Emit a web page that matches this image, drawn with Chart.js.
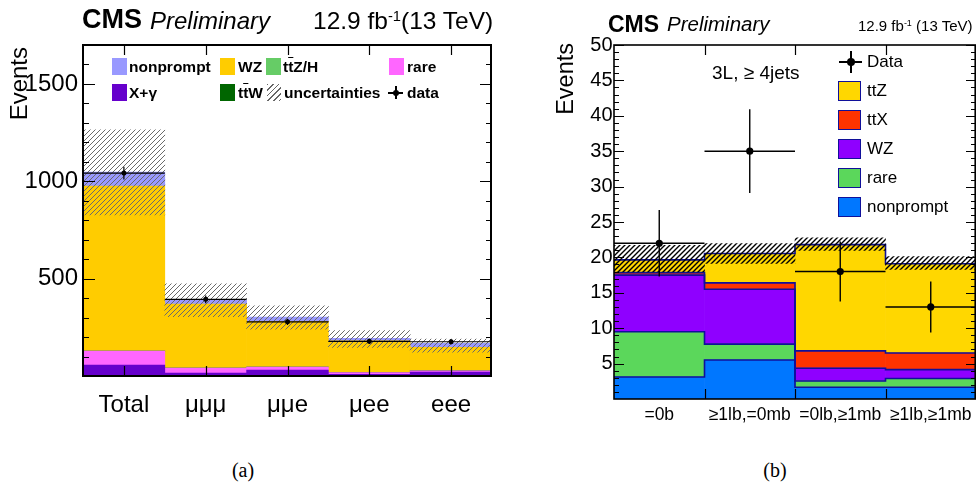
<!DOCTYPE html>
<html>
<head>
<meta charset="utf-8">
<title>3L yields</title>
<script src="https://cdn.jsdelivr.net/npm/chart.js@4.4.1/dist/chart.umd.min.js"></script>
<style>
  html, body { margin: 0; padding: 0; background: #fff; }
  body { width: 980px; height: 486px; position: relative; overflow: hidden; font-family: 'Liberation Sans', Arial, sans-serif; color: #000; }
  canvas { position: absolute; top: 0; }
  #chartA { left: 0; }
  #chartB { left: 530px; }
  .t { position: absolute; white-space: nowrap; }
  .b { font-weight: bold; }
  .i { font-style: italic; }
  .sup { font-size: 0.6em; position: relative; top: -0.55em; }
  .ov { text-decoration: overline; }
  .box { position: absolute; }
  .leg { position: absolute; font-weight: bold; font-size: 15.5px; height: 16px; line-height: 16px; white-space: nowrap; }
  .legB { position: absolute; font-size: 17px; height: 18px; line-height: 18px; white-space: nowrap; }
  .boxB { position: absolute; width: 21px; height: 18px; border: 1.5px solid #10109a; }
  .rot { position: absolute; width: 200px; text-align: right; transform-origin: top left; transform: rotate(-90deg); white-space: nowrap; }
  .cap { position: absolute; font-family: 'Liberation Serif', 'DejaVu Serif', serif; font-size: 20px; height: 20px; line-height: 20px; width: 60px; text-align: center; }
</style>
</head>
<body>
<canvas id="chartA" width="510" height="430"></canvas>
<canvas id="chartB" width="450" height="430"></canvas>

<!-- panel (a) header -->
<div class="t b" style="left:82px; top:6px; font-size:27px; line-height:27px;">CMS</div>
<div class="t i" style="left:150px; top:9px; font-size:24px; line-height:24px;">Preliminary</div>
<div class="t" style="left:313px; top:9px; font-size:24.5px; line-height:24px;">12.9 fb<span class="sup">-1</span>(13 TeV)</div>
<div class="rot" style="left:7px; top:247px; font-size:24px; line-height:24px;">Events</div>

<!-- panel (a) legend -->
<div class="box" style="left:112px; top:58px; width:15px; height:17px; background:#9999ff;"></div>
<div class="leg" style="left:129px; top:59px;">nonprompt</div>
<div class="box" style="left:220px; top:58px; width:15px; height:17px; background:#ffcc00;"></div>
<div class="leg" style="left:238px; top:59px;">WZ</div>
<div class="box" style="left:266px; top:58px; width:15px; height:17px; background:#66cc66;"></div>
<div class="leg" style="left:283px; top:59px;">t<span class="ov">t</span>Z/H</div>
<div class="box" style="left:389px; top:58px; width:15px; height:17px; background:#ff66ff;"></div>
<div class="leg" style="left:407px; top:59px;">rare</div>
<div class="box" style="left:112px; top:84px; width:15px; height:17px; background:#6600cc;"></div>
<div class="leg" style="left:129px; top:85px;">X+γ</div>
<div class="box" style="left:220px; top:84px; width:15px; height:17px; background:#006600;"></div>
<div class="leg" style="left:238px; top:85px;">t<span class="ov">t</span>W</div>
<div class="box" style="left:267px; top:84px; width:14px; height:17px; background:repeating-linear-gradient(135deg, #666 0 1px, #fff 1px 4px);"></div>
<div class="leg" style="left:284px; top:85px;">uncertainties</div>
<div class="box" style="left:388px; top:92px; width:15px; height:1.5px; background:#000;"></div>
<div class="box" style="left:395px; top:86px; width:1.5px; height:13px; background:#000;"></div>
<div class="box" style="left:393px; top:90px; width:6px; height:6px; border-radius:3px; background:#000;"></div>
<div class="leg" style="left:407px; top:85px;">data</div>

<!-- panel (b) header -->
<div class="t b" style="left:608px; top:12.5px; font-size:23px; line-height:23px;">CMS</div>
<div class="t i" style="left:667px; top:14px; font-size:20.5px; line-height:20.5px;">Preliminary</div>
<div class="t" style="left:858px; top:18px; font-size:15px; line-height:15px;">12.9 fb<span class="sup">-1</span> (13 TeV)</div>
<div class="rot" style="left:554px; top:243px; font-size:23.5px; line-height:23.5px;">Events</div>
<div class="t" style="left:712px; top:62.5px; font-size:19px; line-height:19px;">3L, ≥ 4jets</div>

<!-- panel (b) legend -->
<div class="box" style="left:839px; top:61px; width:23px; height:1.5px; background:#000;"></div>
<div class="box" style="left:850px; top:51px; width:1.5px; height:22px; background:#000;"></div>
<div class="box" style="left:846.5px; top:58px; width:8px; height:8px; border-radius:4px; background:#000;"></div>
<div class="legB" style="left:867px; top:53px;">Data</div>
<div class="boxB" style="left:838px; top:81px; background:#ffd700;"></div>
<div class="legB" style="left:867px; top:82px;">ttZ</div>
<div class="boxB" style="left:838px; top:110px; background:#ff3300;"></div>
<div class="legB" style="left:867px; top:111px;">ttX</div>
<div class="boxB" style="left:838px; top:139px; background:#8f00ff;"></div>
<div class="legB" style="left:867px; top:140px;">WZ</div>
<div class="boxB" style="left:838px; top:168px; background:#5bd75b;"></div>
<div class="legB" style="left:867px; top:169px;">rare</div>
<div class="boxB" style="left:838px; top:197px; background:#0077ff;"></div>
<div class="legB" style="left:867px; top:198px;">nonprompt</div>

<div class="cap" style="left:213px; top:460px;">(a)</div>
<div class="cap" style="left:745px; top:460px;">(b)</div>

<script>
// (a) three-lepton yields per flavour channel
const channels = ['Total', 'μμμ', 'μμe', 'μee', 'eee'];
const xgammaA = [56, 15, 31, 9, 20];
const rareA = [72, 26, 15, 8, 6];
const ttWA = [0, 0, 0, 0, 0];
const ttZHA = [0, 0, 0, 0, 0];
const wzA = [848, 329, 235, 163, 121];
const nonpromptA = [71, 20, 21, 14, 21];
const uncLowA = [827, 305, 240, 147, 123];
const uncHighA = [1264, 473, 360, 233, 190];
const dataA = [1042, 394, 278, 178, 176];
const yTicksA = [500, 1000, 1500];
const yMaxA = 1700;

// (b) 3L, >= 4 jets, split by b-tag category
const bins = ['=0b', '≥1lb,=0mb', '=0lb,≥1mb', '≥1lb,≥1mb'];
const nonpromptB = [3.1, 5.5, 1.65, 1.65];
const rareB = [6.4, 2.25, 0.9, 1.25];
const wzB = [8.0, 7.75, 1.8, 1.25];
const ttXB = [0.35, 0.9, 2.45, 2.35];
const ttZB = [1.8, 4.15, 15.0, 12.6];
const uncLowB = [17.95, 19.15, 21.0, 18.3];
const uncHighB = [21.7, 21.95, 22.75, 20.1];
const dataB = [22, 35, 18, 13];
const yTicksB = [5, 10, 15, 20, 25, 30, 35, 40, 45, 50];
const yMaxB = 50;

const FONT = 'Liberation Sans';

function hatch(color, gap, lw) {
    const c = document.createElement('canvas');
    c.width = gap;
    c.height = gap;
    const g = c.getContext('2d');
    g.strokeStyle = color;
    g.lineWidth = lw;
    g.beginPath();
    g.moveTo(-1, gap + 1); g.lineTo(gap + 1, -1);
    g.moveTo(-1, 1); g.lineTo(1, -1);
    g.moveTo(gap - 1, gap + 1); g.lineTo(gap + 1, gap - 1);
    g.stroke();
    return g.createPattern(c, 'repeat');
}

// sqrt(N) vertical error, horizontal bar across the whole bin
const errorBars = {
    id: 'errorBars',
    afterDatasetsDraw(chart, args, o) {
        const {ctx, chartArea: a, scales: {x, y}} = chart;
        const values = chart.data.datasets[o.dataset].data;
        ctx.save();
        ctx.beginPath();
        ctx.rect(a.left, a.top, a.right - a.left, a.bottom - a.top);
        ctx.clip();
        ctx.strokeStyle = o.color;
        ctx.lineWidth = o.width;
        ctx.beginPath();
        values.forEach((v, i) => {
            const err = Math.sqrt(v);
            const px = x.getPixelForValue(i);
            const py = y.getPixelForValue(v);
            ctx.moveTo(px, y.getPixelForValue(v - err));
            ctx.lineTo(px, y.getPixelForValue(v + err));
            ctx.moveTo(x.getPixelForValue(i - 0.5), py);
            ctx.lineTo(x.getPixelForValue(i + 0.5), py);
        });
        ctx.stroke();
        ctx.restore();
    }
};

// histogram-style outline on top of each stacked component
const stepOutline = {
    id: 'stepOutline',
    beforeDatasetDraw(chart, args, o) {
        if (!o.datasets || args.index !== o.before) return;
        const {ctx, chartArea: a} = chart;
        ctx.save();
        ctx.beginPath();
        ctx.rect(a.left, a.top, a.right - a.left, a.bottom - a.top);
        ctx.clip();
        ctx.strokeStyle = o.color;
        ctx.lineWidth = o.width;
        o.datasets.forEach(d => {
            const bars = chart.getDatasetMeta(d).data;
            ctx.beginPath();
            bars.forEach((b, i) => {
                const l = b.x - b.width / 2;
                const r = b.x + b.width / 2;
                if (i === 0) ctx.moveTo(l, b.y); else ctx.lineTo(l, b.y);
                ctx.lineTo(r, b.y);
            });
            ctx.stroke();
        });
        ctx.restore();
    }
};

// box frame with inward ticks on all four sides
const frameTicks = {
    id: 'frameTicks',
    afterDatasetsDraw(chart, args, o) {
        const {ctx, chartArea: a, scales: {x, y}} = chart;
        ctx.save();
        ctx.strokeStyle = '#000';
        ctx.lineWidth = o.tickWidth;
        ctx.beginPath();
        const steps = Math.round((y.max - y.min) / o.minor);
        for (let k = 1; k <= steps; k++) {
            const v = y.min + k * o.minor;
            const py = Math.round(y.getPixelForValue(v)) + 0.5;
            const major = Math.abs(v / o.major - Math.round(v / o.major)) < 1e-6;
            const len = major ? o.majorLen : o.minorLen;
            ctx.moveTo(a.left, py); ctx.lineTo(a.left + len, py);
            ctx.moveTo(a.right, py); ctx.lineTo(a.right - len, py);
        }
        const n = chart.data.labels.length;
        const xs = [];
        if (o.xAtEdges) {
            for (let i = 0; i < n - 1; i++) xs.push(i + 0.5);
        } else {
            for (let i = 0; i < n; i++) xs.push(i);
        }
        xs.forEach(v => {
            const px = Math.round(x.getPixelForValue(v)) + 0.5;
            ctx.moveTo(px, a.bottom); ctx.lineTo(px, a.bottom - o.xLen);
            ctx.moveTo(px, a.top); ctx.lineTo(px, a.top + o.xLen);
        });
        ctx.stroke();
        ctx.lineWidth = o.frameWidth;
        ctx.strokeRect(a.left, a.top, a.right - a.left - o.frameWidth / 2, a.bottom - a.top);
        ctx.restore();
    }
};

function stacked(label, data, color) {
    return {label, data, backgroundColor: color, stack: 'bkg', order: 2};
}

function yAxis(max, tickValues, size, padding, width) {
    return {
        stacked: true,
        min: 0,
        max,
        grid: {display: false, drawTicks: false},
        border: {display: false},
        afterBuildTicks: s => { s.ticks = tickValues.map(v => ({value: v})); },
        ticks: {
            autoSkip: false,
            color: '#000',
            font: {family: FONT, size},
            padding,
            callback: v => String(v)
        },
        afterFit: s => { s.width = width; }
    };
}

const hatchA = hatch('#6a6a6a', 5, 1);
const hatchB = hatch('#000', 5, 1.4);

new Chart(document.getElementById('chartA'), {
    type: 'bar',
    data: {
        labels: channels,
        datasets: [
            stacked('X+γ', xgammaA, '#6600cc'),
            stacked('rare', rareA, '#ff66ff'),
            stacked('ttW', ttWA, '#006600'),
            stacked('ttZ/H', ttZHA, '#66cc66'),
            stacked('WZ', wzA, '#ffcc00'),
            stacked('nonprompt', nonpromptA, '#9999ff'),
            {
                label: 'uncertainties',
                data: uncLowA.map((lo, i) => [lo, uncHighA[i]]),
                backgroundColor: hatchA,
                stack: 'unc',
                order: 1
            },
            {
                type: 'line',
                label: 'data',
                data: dataA,
                stack: 'data',
                showLine: false,
                pointRadius: 2.5,
                pointBorderWidth: 0,
                pointBackgroundColor: '#000',
                order: 0
            }
        ]
    },
    options: {
        responsive: false,
        animation: false,
        events: [],
        layout: {padding: {top: 45, right: 18, left: 0, bottom: 0}},
        datasets: {bar: {grouped: false, categoryPercentage: 1, barPercentage: 1, borderWidth: 0}},
        plugins: {
            legend: {display: false},
            tooltip: {enabled: false},
            errorBars: {dataset: 7, color: '#000', width: 1.2},
            frameTicks: {minor: 100, major: 500, majorLen: 12, minorLen: 6, xLen: 10, xAtEdges: false, tickWidth: 1.2, frameWidth: 2}
        },
        scales: {
            x: {
                grid: {display: false, drawTicks: false},
                border: {display: false},
                ticks: {color: '#000', font: {family: FONT, size: 24}, padding: 15},
                afterFit: s => { s.height = 54; }
            },
            y: yAxis(yMaxA, yTicksA, 24, 5, 83)
        }
    },
    plugins: [errorBars, frameTicks]
});

new Chart(document.getElementById('chartB'), {
    type: 'bar',
    data: {
        labels: bins,
        datasets: [
            stacked('nonprompt', nonpromptB, '#0077ff'),
            stacked('rare', rareB, '#5bd75b'),
            stacked('WZ', wzB, '#8f00ff'),
            stacked('ttX', ttXB, '#ff3300'),
            stacked('ttZ', ttZB, '#ffd700'),
            {
                label: 'uncertainties',
                data: uncLowB.map((lo, i) => [lo, uncHighB[i]]),
                backgroundColor: hatchB,
                stack: 'unc',
                order: 1
            },
            {
                type: 'line',
                label: 'Data',
                data: dataB,
                stack: 'data',
                showLine: false,
                pointRadius: 3.6,
                pointBorderWidth: 0,
                pointBackgroundColor: '#000',
                order: 0
            }
        ]
    },
    options: {
        responsive: false,
        animation: false,
        events: [],
        layout: {padding: {top: 45, right: 0, left: 0, bottom: 0}},
        datasets: {bar: {grouped: false, categoryPercentage: 1, barPercentage: 1, borderWidth: 0}},
        plugins: {
            legend: {display: false},
            tooltip: {enabled: false},
            stepOutline: {datasets: [0, 1, 2, 3, 4], before: 5, color: '#10109a', width: 1.6},
            errorBars: {dataset: 6, color: '#000', width: 1.4},
            frameTicks: {minor: 1, major: 5, majorLen: 10, minorLen: 5, xLen: 10, xAtEdges: true, tickWidth: 1.2, frameWidth: 1.6}
        },
        scales: {
            x: {
                grid: {display: false, drawTicks: false},
                border: {display: false},
                ticks: {color: '#000', font: {family: FONT, size: 17.5}, padding: 6},
                afterFit: s => { s.height = 31; }
            },
            y: yAxis(yMaxB, yTicksB, 20, 1.5, 84)
        }
    },
    plugins: [stepOutline, errorBars, frameTicks]
});
</script>
</body>
</html>
